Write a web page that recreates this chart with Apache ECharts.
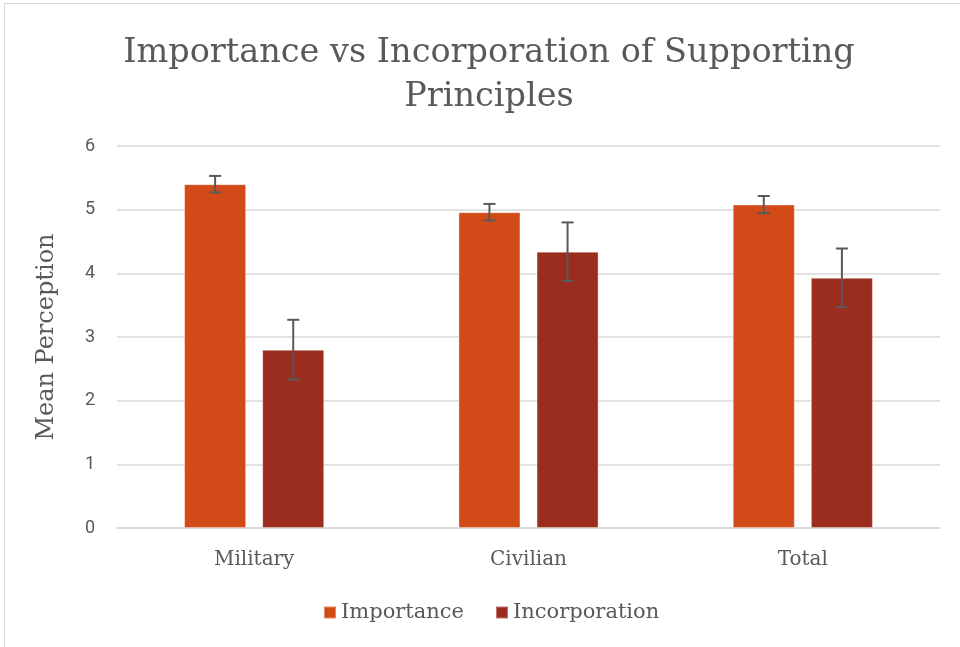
<!DOCTYPE html>
<html>
<head>
<meta charset="utf-8">
<script src="https://cdn.jsdelivr.net/npm/echarts@6/dist/echarts.min.js"></script>
<style>
html, body { margin: 0; padding: 0; background: #fff; }
#frame { position: absolute; left: 4px; top: 3px; width: 980px; height: 700px; border: 1px solid #d9d9d9; }
#chart { position: absolute; left: 0; top: 0; width: 960px; height: 647px; }
</style>
</head>
<body>
<div id="frame"></div>
<div id="chart"></div>
<script>
// groups on the x axis
var categories = ['Military', 'Civilian', 'Total'];
// mean values
var importance = [5.40, 4.96, 5.08];
var incorporation = [2.80, 4.34, 3.93];
// error bar half widths
var importanceErr = [0.13, 0.13, 0.135];
var incorporationErr = [0.47, 0.46, 0.46];

var serif = '"DejaVu Serif", serif';
var BAR_PCT = 0.226;
var GAP_PCT = 0.26;

function errData(vals, errs, s) {
  return vals.map(function (v, i) {
    return [i, v - errs[i], v + errs[i], s];
  });
}

function renderErr(params, api) {
  var band = api.size([1, 0])[0];
  var bw = band * BAR_PCT;
  var shift = (bw + bw * GAP_PCT) / 2 * (api.value(3) === 0 ? -1 : 1);
  var lo = api.coord([api.value(0), api.value(1)]);
  var hi = api.coord([api.value(0), api.value(2)]);
  var x = lo[0] + shift;
  var st = { stroke: '#595959', lineWidth: 2 };
  return {
    type: 'group',
    children: [
      { type: 'line', shape: { x1: x, y1: lo[1], x2: x, y2: hi[1] }, style: st },
      { type: 'line', shape: { x1: x - 6, y1: lo[1], x2: x + 6, y2: lo[1] }, style: st },
      { type: 'line', shape: { x1: x - 6, y1: hi[1], x2: x + 6, y2: hi[1] }, style: st }
    ]
  };
}

var chart = echarts.init(document.getElementById('chart'));
chart.setOption({
  animation: false,
  title: {
    text: 'Importance vs Incorporation of Supporting\nPrinciples',
    left: 484,
    textAlign: 'center',
    top: 26,
    textStyle: { fontFamily: serif, fontSize: 33.5, fontWeight: 'normal', color: '#595959', lineHeight: 44 }
  },
  legend: {
    data: ['Importance', 'Incorporation'],
    bottom: 19,
    left: 318,
    itemWidth: 12,
    itemHeight: 12,
    itemGap: 31,
    icon: 'rect',
    textStyle: { fontFamily: serif, fontSize: 21, color: '#595959' }
  },
  grid: { left: 117, right: 20, top: 146, bottom: 119 },
  xAxis: {
    type: 'category',
    data: categories,
    axisTick: { show: false },
    axisLine: { lineStyle: { color: '#d9d9d9', width: 1.5 } },
    axisLabel: { fontFamily: serif, fontSize: 20, color: '#595959', margin: 22 }
  },
  yAxis: {
    type: 'value',
    min: 0,
    max: 6,
    interval: 1,
    name: 'Mean Perception',
    nameLocation: 'middle',
    nameGap: 58,
    nameTextStyle: { fontFamily: serif, fontSize: 24, color: '#595959' },
    axisLabel: { fontFamily: 'Roboto, sans-serif', fontSize: 18, color: '#595959', margin: 22 },
    splitLine: { lineStyle: { color: '#d9d9d9', width: 1.5 } }
  },
  series: [
    {
      name: 'Importance',
      type: 'bar',
      data: importance,
      barWidth: (BAR_PCT * 100) + '%',
      barGap: (GAP_PCT * 100) + '%',
      itemStyle: { color: '#D24A17', borderColor: 'rgba(255,255,255,0.35)', borderWidth: 1 }
    },
    {
      name: 'Incorporation',
      type: 'bar',
      data: incorporation,
      barWidth: (BAR_PCT * 100) + '%',
      itemStyle: { color: '#9B2D1F', borderColor: 'rgba(255,255,255,0.35)', borderWidth: 1 }
    },
    {
      type: 'custom',
      renderItem: renderErr,
      data: errData(importance, importanceErr, 0).concat(errData(incorporation, incorporationErr, 1)),
      encode: { x: 0, y: [1, 2] },
      z: 10,
      silent: true
    }
  ]
});
</script>
</body>
</html>
